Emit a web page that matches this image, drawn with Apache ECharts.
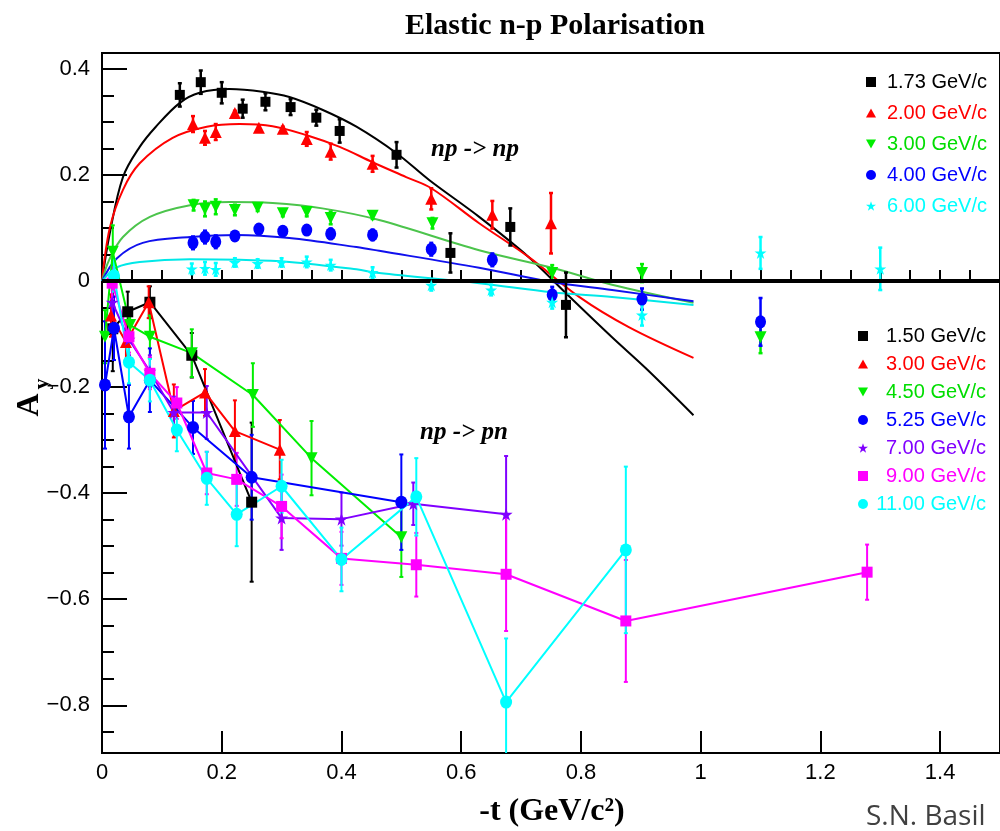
<!DOCTYPE html>
<html><head><meta charset="utf-8">
<script src="https://cdn.jsdelivr.net/npm/echarts@6/dist/echarts.min.js"></script>
<style>html,body{margin:0;padding:0;background:#fff}#c{width:1000px;height:831px}</style>
</head><body><div id="c"></div>
<script>
// ---------- axis ticks ----------
const xMajor = [0, 0.2, 0.4, 0.6, 0.8, 1, 1.2, 1.4];
const xMinor = [0.05,0.1,0.15,0.2,0.25,0.3,0.35,0.4,0.45,0.5,0.55,0.6,0.65,0.7,0.75,0.8,0.85,0.9,0.95,1,1.05,1.1,1.15,1.2,1.25,1.3,1.35,1.4,1.45];
const yMajor = [-0.8, -0.6, -0.4, -0.2, 0, 0.2, 0.4];
const yMinor = [-0.85,-0.8,-0.75,-0.7,-0.65,-0.6,-0.55,-0.5,-0.45,-0.4,-0.35,-0.3,-0.25,-0.2,-0.15,-0.1,-0.05,0,0.05,0.1,0.15,0.2,0.25,0.3,0.35,0.4];

// ---------- np -> np data ----------
const np173_t = [0.13,0.165,0.20,0.235,0.273,0.315,0.358,0.397,0.492,0.582,0.682,0.775];
const np173_A = [0.351,0.375,0.355,0.325,0.338,0.328,0.308,0.283,0.238,0.053,0.102,-0.045];
const np173_e = [0.022,0.022,0.02,0.017,0.016,0.015,0.015,0.022,0.024,0.037,0.035,0.061];

const np200_t = [0.152,0.172,0.19,0.222,0.262,0.302,0.342,0.382,0.452,0.55,0.652,0.75];
const np200_A = [0.296,0.270,0.281,0.317,0.289,0.287,0.268,0.244,0.221,0.155,0.125,0.109];
const np200_e = [0.015,0.013,0.015,0.004,0.004,0.004,0.013,0.015,0.015,0.02,0.026,0.057];

const np300_t = [0.153,0.172,0.19,0.222,0.26,0.302,0.342,0.382,0.452,0.552,0.752,0.902,1.10];
const np300_A = [0.143,0.136,0.14,0.134,0.138,0.128,0.13,0.119,0.123,0.109,0.015,0.015,-0.106];
const np300_e = [0.01,0.014,0.014,0.01,0.006,0.006,0.008,0.012,0.006,0.01,0.015,0.017,0.03];

const np400_t = [0.152,0.172,0.19,0.222,0.262,0.302,0.342,0.382,0.452,0.55,0.652,0.752,0.902,1.10];
const np400_A = [0.072,0.083,0.074,0.085,0.098,0.094,0.096,0.089,0.087,0.06,0.04,-0.026,-0.034,-0.077];
const np400_e = [0.012,0.012,0.012,0.008,0.008,0.008,0.008,0.01,0.01,0.012,0.012,0.015,0.02,0.045];

const np600_t = [0.15,0.172,0.19,0.222,0.26,0.3,0.342,0.382,0.452,0.55,0.65,0.752,0.902,1.10,1.30];
const np600_A = [0.023,0.024,0.022,0.035,0.033,0.035,0.036,0.030,0.016,-0.008,-0.017,-0.04,-0.064,0.053,0.023];
const np600_e = [0.01,0.012,0.012,0.008,0.008,0.008,0.01,0.01,0.01,0.01,0.01,0.012,0.02,0.03,0.04];

// ---------- np -> np theory curves ----------
const c173_t = [0,0.013,0.035,0.063,0.09,0.13,0.163,0.213,0.268,0.313,0.368,0.425,0.492,0.547,0.63,0.713,0.775,0.852,0.908,0.988];
const c173_A = [0,0.09,0.196,0.253,0.291,0.336,0.355,0.362,0.357,0.347,0.323,0.291,0.241,0.19,0.121,0.045,-0.023,-0.106,-0.164,-0.253];
const c200_t = [0,0.013,0.035,0.063,0.118,0.175,0.23,0.285,0.342,0.397,0.452,0.508,0.55,0.63,0.713,0.797,0.88,0.988];
const c200_A = [0,0.1,0.172,0.222,0.27,0.291,0.296,0.292,0.275,0.253,0.224,0.196,0.175,0.109,0.045,-0.03,-0.087,-0.145];
const c300_t = [0,0.012,0.035,0.08,0.147,0.213,0.285,0.368,0.463,0.63,0.752,0.852,0.988];
const c300_A = [0,0.04,0.083,0.121,0.143,0.149,0.147,0.137,0.115,0.058,0.025,-0.007,-0.041];
const c400_t = [0,0.025,0.068,0.147,0.225,0.313,0.425,0.463,0.63,0.752,0.852,0.988];
const c400_A = [0,0.043,0.072,0.083,0.087,0.081,0.064,0.057,0.025,-0.002,-0.017,-0.038];
const c600_t = [0,0.025,0.063,0.147,0.23,0.313,0.425,0.463,0.63,0.752,0.852,0.988];
const c600_A = [0,0.026,0.036,0.041,0.04,0.036,0.022,0.015,-0.004,-0.021,-0.03,-0.045];

// ---------- np -> pn data ----------
const pn150_t = [0.018,0.043,0.08,0.15,0.25];
const pn150_A = [-0.09,-0.058,-0.04,-0.14,-0.417];
const pn150_e = [0.08,0.038,0.03,0.042,0.15];

const pn300_t = [0.015,0.04,0.078,0.12,0.172,0.222,0.297];
const pn300_A = [-0.065,-0.115,-0.04,-0.245,-0.21,-0.283,-0.318];
const pn300_e = [0.04,0.04,0.03,0.05,0.044,0.058,0.056];

const pn450_t = [0.005,0.018,0.047,0.08,0.15,0.252,0.35,0.5];
const pn450_A = [-0.105,0.055,-0.083,-0.105,-0.136,-0.215,-0.334,-0.483];
const pn450_e = [0.05,0.05,0.03,0.04,0.045,0.06,0.07,0.075];

const pn525_t = [0.005,0.02,0.045,0.08,0.152,0.25,0.5];
const pn525_A = [-0.196,-0.089,-0.256,-0.187,-0.276,-0.37,-0.417];
const pn525_e = [0.12,0.06,0.06,0.06,0.05,0.08,0.09];

const pn700_t = [0.017,0.045,0.08,0.12,0.175,0.3,0.4,0.52,0.675];
const pn700_A = [-0.04,-0.11,-0.17,-0.248,-0.248,-0.447,-0.449,-0.42,-0.44];
const pn700_e = [0.03,0.03,0.03,0.03,0.05,0.06,0.05,0.04,0.11];

const pn900_t = [0.017,0.045,0.08,0.125,0.175,0.225,0.3,0.4,0.525,0.675,0.875,1.278];
const pn900_A = [-0.004,-0.105,-0.174,-0.23,-0.362,-0.374,-0.425,-0.523,-0.535,-0.553,-0.641,-0.549];
const pn900_e = [0.03,0.03,0.03,0.03,0.04,0.05,0.06,0.05,0.06,0.107,0.115,0.052];

const pn1100_t = [0.02,0.045,0.08,0.125,0.175,0.225,0.3,0.4,0.525,0.675,0.875];
const pn1100_A = [0.01,-0.153,-0.187,-0.281,-0.372,-0.44,-0.387,-0.525,-0.407,-0.794,-0.507];
const pn1100_e = [0.03,0.04,0.04,0.04,0.05,0.06,0.05,0.06,0.073,0.12,0.157];

// ---------- labels ----------
const npLabels = ['1.73 GeV/c','2.00 GeV/c','3.00 GeV/c','4.00 GeV/c','6.00 GeV/c'];
const pnLabels = ['1.50 GeV/c','3.00 GeV/c','4.50 GeV/c','5.25 GeV/c','7.00 GeV/c','9.00 GeV/c','11.00 GeV/c'];

// ---------- styles ----------
const SANS = '"Liberation Sans",Arial,sans-serif';
const SERIF = '"Liberation Serif","Times New Roman",serif';
const STAR = 'path://M50,0L61.2,34.5L97.6,34.5L68.2,55.9L79.4,90.5L50,69.1L20.6,90.5L31.8,55.9L2.4,34.5L38.8,34.5Z';
const TRI_DN = 'path://M0,0L10,0L5,9Z';
const TRI_UP = 'path://M5,0L10,9L0,9Z';

const pts = (t, A) => t.map((v, i) => [v, A[i]]);
const errs = (t, A, e) => t.map((v, i) => [v, A[i], e[i]]);

function errSeries(t, A, e, color, w) {
  return {
    type: 'custom', clip: true, z: 3, silent: true,
    data: errs(t, A, e), encode: {x: 0, y: 1},
    renderItem: function (params, api) {
      const x = api.value(0), y = api.value(1), d = api.value(2);
      const p1 = api.coord([x, y + d]), p2 = api.coord([x, y - d]);
      const st = {stroke: color, lineWidth: w};
      return {type: 'group', children: [
        {type: 'line', shape: {x1: p1[0], y1: p1[1], x2: p2[0], y2: p2[1]}, style: st},
        {type: 'line', shape: {x1: p1[0] - 2, y1: p1[1], x2: p1[0] + 2, y2: p1[1]}, style: st},
        {type: 'line', shape: {x1: p2[0] - 2, y1: p2[1], x2: p2[0] + 2, y2: p2[1]}, style: st}
      ]};
    }
  };
}

const npDefs = [
  {name: 'np173', t: np173_t, A: np173_A, e: np173_e, ct: c173_t, cA: c173_A, color: '#000000', ccolor: '#000000', sym: 'rect', size: 10, icon: 'rect'},
  {name: 'np200', t: np200_t, A: np200_A, e: np200_e, ct: c200_t, cA: c200_A, color: '#ff0000', ccolor: '#ff0000', sym: TRI_UP, size: [12, 12], icon: TRI_UP},
  {name: 'np300', t: np300_t, A: np300_A, e: np300_e, ct: c300_t, cA: c300_A, color: '#00ee00', ccolor: '#4cc44c', sym: TRI_DN, size: [12, 12], icon: TRI_DN},
  {name: 'np400', t: np400_t, A: np400_A, e: np400_e, ct: c400_t, cA: c400_A, color: '#0000ff', ccolor: '#1010ee', sym: 'circle', size: [11, 13], icon: 'circle'},
  {name: 'np600', t: np600_t, A: np600_A, e: np600_e, ct: c600_t, cA: c600_A, color: '#00ffff', ccolor: '#00e8e8', sym: STAR, size: [12, 12], icon: STAR}
];
const pnDefs = [
  {name: 'pn150', t: pn150_t, A: pn150_A, e: pn150_e, color: '#000000', sym: 'rect', size: 11, icon: 'rect'},
  {name: 'pn300', t: pn300_t, A: pn300_A, e: pn300_e, color: '#ff0000', sym: TRI_UP, size: [12, 12], icon: TRI_UP},
  {name: 'pn450', t: pn450_t, A: pn450_A, e: pn450_e, color: '#00ee00', sym: TRI_DN, size: [12, 12], icon: TRI_DN},
  {name: 'pn525', t: pn525_t, A: pn525_A, e: pn525_e, color: '#0000ff', sym: 'circle', size: [12, 13], icon: 'circle'},
  {name: 'pn700', t: pn700_t, A: pn700_A, e: pn700_e, color: '#8000ff', sym: STAR, size: [13, 13], icon: STAR},
  {name: 'pn900', t: pn900_t, A: pn900_A, e: pn900_e, color: '#ff00ff', sym: 'rect', size: 11, icon: 'rect'},
  {name: 'pn1100', t: pn1100_t, A: pn1100_A, e: pn1100_e, color: '#00ffff', sym: 'circle', size: [12, 13], icon: 'circle'}
];

const series = [];
// zero line
series.push({type: 'line', data: [], silent: true, z: 2,
  markLine: {silent: true, symbol: ['none', 'none'], label: {show: false},
    lineStyle: {color: '#000', width: 4, type: 'solid'}, data: [{yAxis: 0}]}});
// theory curves
npDefs.forEach(d => series.push({type: 'line', data: pts(d.ct, d.cA), smooth: 0.35, showSymbol: false, silent: true,
  lineStyle: {color: d.ccolor, width: 2}, z: 2}));
// np error bars + points
npDefs.forEach(d => series.push(errSeries(d.t, d.A, d.e, d.color, 2.5)));
npDefs.forEach(d => series.push({type: 'scatter', name: d.name, data: pts(d.t, d.A), symbol: d.sym, symbolSize: d.size,
  itemStyle: {color: d.color, opacity: 1}, z: 5}));
// pn lines, error bars and points
pnDefs.forEach(d => {
  series.push(errSeries(d.t, d.A, d.e, d.color, 2));
  series.push({type: 'line', name: d.name, data: pts(d.t, d.A), symbol: d.sym, symbolSize: d.size, showSymbol: true,
    lineStyle: {color: d.color, width: 2}, itemStyle: {color: d.color}, z: 4});
});

function makeLegend(defs, labels, left, top, gap, w) {
  const rich = {};
  defs.forEach((d, i) => {
    rich['k' + i] = {color: d.color === '#00ee00' ? '#00dd00' : d.color, width: w, align: 'right',
      fontSize: 20, fontFamily: SANS, lineHeight: 24};
  });
  return {
    orient: 'vertical', left: left, top: top, itemGap: gap, itemWidth: 10, itemHeight: 10, padding: 0,
    selectedMode: false,
    data: defs.map(d => ({name: d.name, icon: d.icon})),
    formatter: function (name) {
      const i = defs.findIndex(d => d.name === name);
      return '{k' + i + '|' + labels[i] + '}';
    },
    textStyle: {rich: rich, fontSize: 20, fontFamily: SANS, lineHeight: 24}
  };
}

const yFmt = v => v === 0 ? '0' : (v < 0 ? '\u2212' : '') + Math.abs(v).toFixed(1);
const xFmt = v => (v === 0 ? '0' : (v === 1 ? '1' : v.toFixed(1)));

const option = {
  animation: false,
  backgroundColor: '#ffffff',
  grid: {left: 102, top: 53, width: 900, height: 700, show: true, borderColor: '#000', borderWidth: 2, backgroundColor: 'transparent'},
  xAxis: [
    {type: 'value', min: 0, max: 1.5, position: 'bottom',
      axisLine: {show: true, onZero: false, lineStyle: {color: '#000', width: 2}},
      axisTick: {show: true, inside: true, length: 22, customValues: xMajor, lineStyle: {color: '#000', width: 2}},
      axisLabel: {customValues: xMajor, formatter: xFmt, color: '#000', fontSize: 22, fontFamily: SANS, margin: 9},
      splitLine: {show: false}},
    {type: 'value', min: 0, max: 1.5, position: 'bottom',
      axisLine: {show: false},
      axisTick: {show: true, inside: true, length: 11, customValues: xMinor, lineStyle: {color: '#000', width: 2}},
      axisLabel: {show: false}, splitLine: {show: false}}
  ],
  yAxis: [
    {type: 'value', min: -0.89, max: 0.43, position: 'left',
      axisLine: {show: true, onZero: false, lineStyle: {color: '#000', width: 2}},
      axisTick: {show: true, inside: true, length: 25, customValues: yMajor, lineStyle: {color: '#000', width: 2}},
      axisLabel: {customValues: yMajor, formatter: yFmt, color: '#000', fontSize: 22, fontFamily: SANS, margin: 12},
      splitLine: {show: false}},
    {type: 'value', min: -0.89, max: 0.43, position: 'left',
      axisLine: {show: false},
      axisTick: {show: true, inside: true, length: 12, customValues: yMinor, lineStyle: {color: '#000', width: 2}},
      axisLabel: {show: false}, splitLine: {show: false}}
  ],
  legend: [
    makeLegend(npDefs, npLabels, 866, 70, 7, 106),
    makeLegend(pnDefs, pnLabels, 858, 324, 4, 113)
  ],
  graphic: [
    {type: 'text', style: {text: 'Elastic n-p Polarisation', x: 555, y: 26, align: 'center', verticalAlign: 'middle',
      font: 'bold 30px ' + SERIF, fill: '#000'}},
    {type: 'text', style: {text: '-t (GeV/c\u00B2)', x: 552, y: 812, align: 'center', verticalAlign: 'middle',
      font: 'bold 32px ' + SERIF, fill: '#000'}},
    {type: 'text', x: 30, y: 405, rotation: Math.PI / 2, style: {text: 'A', x: 0, y: 0, align: 'center', verticalAlign: 'middle',
      font: 'bold 32px ' + SERIF, fill: '#000'}},
    {type: 'text', x: 42, y: 384, rotation: Math.PI / 2, style: {text: 'y', x: 0, y: 0, align: 'center', verticalAlign: 'middle',
      font: 'bold 22px ' + SERIF, fill: '#000'}},
    {type: 'text', style: {text: 'np -> np', x: 431, y: 150, align: 'left', verticalAlign: 'middle',
      font: 'italic bold 25px ' + SERIF, fill: '#000'}},
    {type: 'text', style: {text: 'np -> pn', x: 420, y: 433, align: 'left', verticalAlign: 'middle',
      font: 'italic bold 25px ' + SERIF, fill: '#000'}},
    {type: 'text', style: {text: 'S.N. Basil', x: 866, y: 817, align: 'left', verticalAlign: 'middle',
      font: '28px "Open Sans","Noto Sans",sans-serif', fill: '#404040'}}
  ],
  series: series
};

const chart = echarts.init(document.getElementById('c'));
chart.setOption(option);
</script></body></html>
